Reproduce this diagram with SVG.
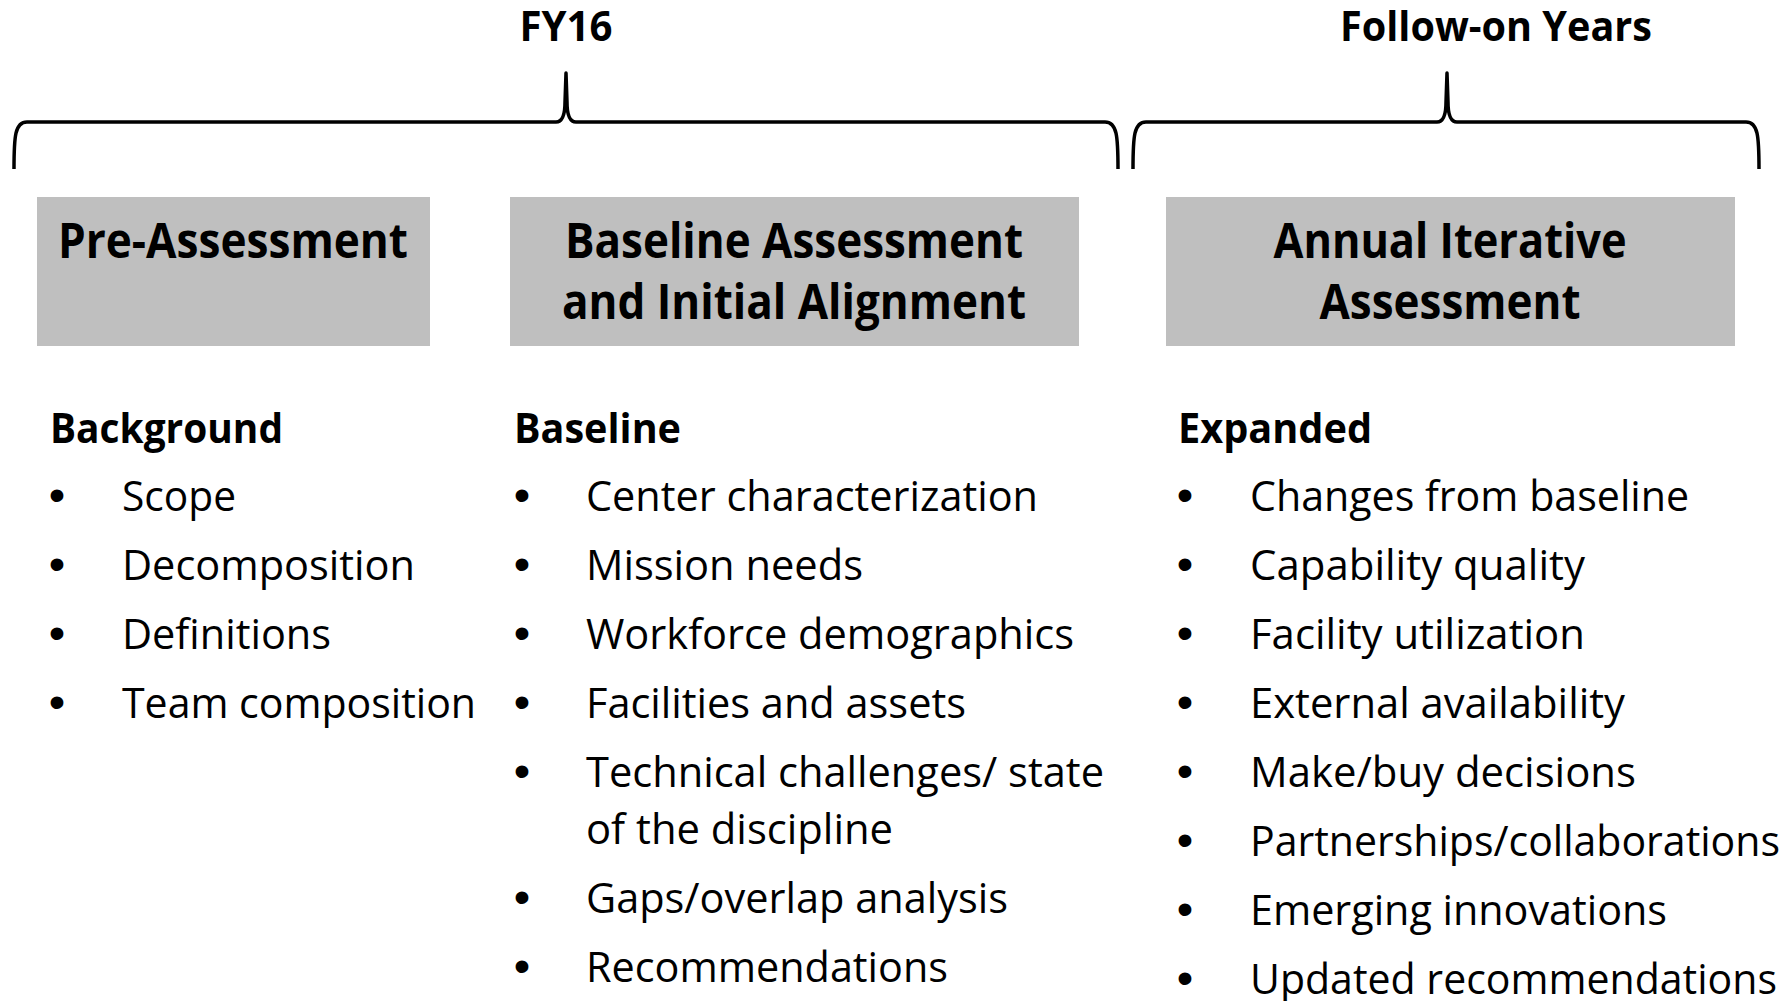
<svg xmlns="http://www.w3.org/2000/svg" width="1791" height="1001" viewBox="0 0 1791 1001">
<style>
  .bg { fill: #ffffff; }
  .box { fill: #bfbfbf; }
  .brace { fill: none; stroke: #000000; stroke-width: 3.5; stroke-linejoin: round; stroke-linecap: butt; }
  .t { font-family: "Open Sans", "Noto Sans", "Liberation Sans", sans-serif; fill: #000000; }
  .top { font-size: 42px; font-weight: bold; text-anchor: middle; }
  .title { font-size: 48px; font-weight: bold; text-anchor: middle; }
  .head { font-size: 42px; font-weight: bold; }
  .item { font-size: 42px; }
  .bul { font-family: "Liberation Sans", Arial, sans-serif; font-size: 47px; text-anchor: middle; fill: #000000; }
</style>
<rect class="bg" x="0" y="0" width="1791" height="1001"/>

<g id="braces">
  <path class="brace" d="M14,169 C14,136 15,122 27,122 L556,122 C562,122 565,116 565,102 L566,73 L567,102 C567,116 570,122 576,122 L1105,122 C1117,122 1118,136 1118,169"/>
  <path class="brace" d="M1133,169 C1133,136 1134,122 1146,122 L1437,122 C1443,122 1446,116 1446,102 L1447,73 L1448,102 C1448,116 1451,122 1457,122 L1746,122 C1758,122 1759,136 1759,169"/>
</g>

<g id="period-labels">
  <text class="t top" x="566" y="41" textLength="93" lengthAdjust="spacingAndGlyphs">FY16</text>
  <text class="t top" x="1496" y="41" textLength="312" lengthAdjust="spacingAndGlyphs">Follow-on Years</text>
</g>

<g id="node-pre-assessment">
  <rect class="box" x="37" y="197" width="393" height="149"/>
  <text class="t title" x="233" y="258" textLength="350" lengthAdjust="spacingAndGlyphs">Pre-Assessment</text>
</g>

<g id="node-baseline-assessment">
  <rect class="box" x="510" y="197" width="569" height="149"/>
  <text class="t title" x="794" y="258" textLength="458" lengthAdjust="spacingAndGlyphs">Baseline Assessment</text>
  <text class="t title" x="794" y="319" textLength="464" lengthAdjust="spacingAndGlyphs">and Initial Alignment</text>
</g>

<g id="node-annual-iterative">
  <rect class="box" x="1166" y="197" width="569" height="149"/>
  <text class="t title" x="1450" y="258" textLength="353" lengthAdjust="spacingAndGlyphs">Annual Iterative</text>
  <text class="t title" x="1450" y="319" textLength="261" lengthAdjust="spacingAndGlyphs">Assessment</text>
</g>

<g id="list-background">
  <text class="t head" x="50" y="443" textLength="233" lengthAdjust="spacingAndGlyphs">Background</text>
  <text class="bul" x="57" y="511">•</text>
  <text class="t item" x="122" y="511" textLength="114" lengthAdjust="spacingAndGlyphs">Scope</text>
  <text class="bul" x="57" y="580">•</text>
  <text class="t item" x="122" y="580" textLength="293" lengthAdjust="spacingAndGlyphs">Decomposition</text>
  <text class="bul" x="57" y="649">•</text>
  <text class="t item" x="122" y="649" textLength="209" lengthAdjust="spacingAndGlyphs">Definitions</text>
  <text class="bul" x="57" y="718">•</text>
  <text class="t item" x="122" y="718" textLength="354" lengthAdjust="spacingAndGlyphs">Team composition</text>
</g>

<g id="list-baseline">
  <text class="t head" x="514" y="443" textLength="167" lengthAdjust="spacingAndGlyphs">Baseline</text>
  <text class="bul" x="522" y="511">•</text>
  <text class="t item" x="586" y="511" textLength="452" lengthAdjust="spacingAndGlyphs">Center characterization</text>
  <text class="bul" x="522" y="580">•</text>
  <text class="t item" x="586" y="580" textLength="277" lengthAdjust="spacingAndGlyphs">Mission needs</text>
  <text class="bul" x="522" y="649">•</text>
  <text class="t item" x="586" y="649" textLength="488" lengthAdjust="spacingAndGlyphs">Workforce demographics</text>
  <text class="bul" x="522" y="718">•</text>
  <text class="t item" x="586" y="718" textLength="380" lengthAdjust="spacingAndGlyphs">Facilities and assets</text>
  <text class="bul" x="522" y="787">•</text>
  <text class="t item" x="586" y="787" textLength="518" lengthAdjust="spacingAndGlyphs">Technical challenges/ state</text>
  <text class="t item" x="586" y="844" textLength="307" lengthAdjust="spacingAndGlyphs">of the discipline</text>
  <text class="bul" x="522" y="913">•</text>
  <text class="t item" x="586" y="913" textLength="422" lengthAdjust="spacingAndGlyphs">Gaps/overlap analysis</text>
  <text class="bul" x="522" y="982">•</text>
  <text class="t item" x="586" y="982" textLength="362" lengthAdjust="spacingAndGlyphs">Recommendations</text>
</g>

<g id="list-expanded">
  <text class="t head" x="1178" y="443" textLength="194" lengthAdjust="spacingAndGlyphs">Expanded</text>
  <text class="bul" x="1185" y="511">•</text>
  <text class="t item" x="1250" y="511" textLength="439" lengthAdjust="spacingAndGlyphs">Changes from baseline</text>
  <text class="bul" x="1185" y="580">•</text>
  <text class="t item" x="1250" y="580" textLength="335" lengthAdjust="spacingAndGlyphs">Capability quality</text>
  <text class="bul" x="1185" y="649">•</text>
  <text class="t item" x="1250" y="649" textLength="335" lengthAdjust="spacingAndGlyphs">Facility utilization</text>
  <text class="bul" x="1185" y="718">•</text>
  <text class="t item" x="1250" y="718" textLength="375" lengthAdjust="spacingAndGlyphs">External availability</text>
  <text class="bul" x="1185" y="787">•</text>
  <text class="t item" x="1250" y="787" textLength="386" lengthAdjust="spacingAndGlyphs">Make/buy decisions</text>
  <text class="bul" x="1185" y="856">•</text>
  <text class="t item" x="1250" y="856" textLength="530" lengthAdjust="spacingAndGlyphs">Partnerships/collaborations</text>
  <text class="bul" x="1185" y="925">•</text>
  <text class="t item" x="1250" y="925" textLength="417" lengthAdjust="spacingAndGlyphs">Emerging innovations</text>
  <text class="bul" x="1185" y="994">•</text>
  <text class="t item" x="1250" y="994" textLength="527" lengthAdjust="spacingAndGlyphs">Updated recommendations</text>
</g>
</svg>
